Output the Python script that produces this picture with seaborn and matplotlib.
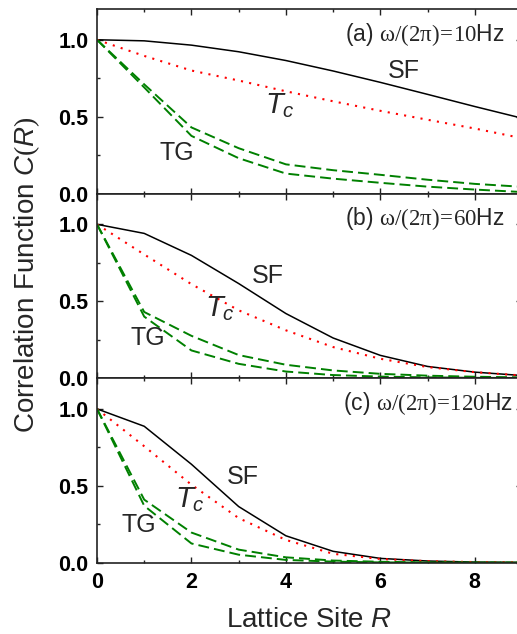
import numpy as np
import pandas as pd
import matplotlib
matplotlib.use("Agg")
import matplotlib.pyplot as plt
import seaborn as sns
from matplotlib.ticker import MultipleLocator

# ---------------- data ----------------
R = [0, 1, 2, 3, 4, 5, 6, 7, 8, 9]

# panel (a) 10 Hz
sf_a = [1.0, 0.993, 0.965, 0.922, 0.865, 0.797, 0.723, 0.645, 0.566, 0.49]
tc_a = [1.0, 0.895, 0.800, 0.735, 0.665, 0.600, 0.538, 0.480, 0.423, 0.36]
tg1_a = [1.0, 0.71, 0.43, 0.295, 0.19, 0.152, 0.122, 0.09, 0.063, 0.044]
tg2_a = [1.0, 0.69, 0.375, 0.23, 0.13, 0.097, 0.07, 0.045, 0.026, 0.01]

# panel (b) 60 Hz
sf_b = [1.0, 0.941, 0.798, 0.615, 0.42, 0.261, 0.148, 0.076, 0.039, 0.017]
tc_b = [1.0, 0.804, 0.611, 0.441, 0.311, 0.202, 0.126, 0.072, 0.039, 0.017]
tg1_b = [1.0, 0.43, 0.275, 0.15, 0.087, 0.05, 0.028, 0.016, 0.009, 0.005]
tg2_b = [1.0, 0.40, 0.18, 0.093, 0.043, 0.02, 0.01, 0.005, 0.002, 0.001]

# panel (c) 120 Hz
sf_c = [1.0, 0.887, 0.64, 0.365, 0.175, 0.074, 0.028, 0.011, 0.004, 0.002]
tc_c = [1.0, 0.757, 0.507, 0.29, 0.148, 0.058, 0.024, 0.01, 0.004, 0.002]
tg1_c = [1.0, 0.41, 0.196, 0.085, 0.035, 0.014, 0.006, 0.002, 0.001, 0.0005]
tg2_c = [1.0, 0.37, 0.125, 0.052, 0.018, 0.007, 0.002, 0.001, 0.0005, 0.0002]

panel_titles = [r"$\mathsf{(a)}\ \mathrm{\omega/(2\pi)\!=\!10}\mathsf{Hz}$",
                r"$\mathsf{(b)}\ \mathrm{\omega/(2\pi)\!=\!60}\mathsf{Hz}$",
                r"$\mathsf{(c)}\ \mathrm{\omega/(2\pi)\!=\!120}\mathsf{Hz}$"]
x_ticks = [0, 2, 4, 6, 8]
y_ticks = [0.0, 0.5, 1.0]

# ---------------- style ----------------
sns.set_style("ticks")
plt.rcParams["font.family"] = ["Liberation Sans", "DejaVu Sans"]
plt.rcParams["mathtext.fontset"] = "custom"
plt.rcParams["mathtext.rm"] = "Liberation Serif"
plt.rcParams["mathtext.sf"] = "Liberation Sans"
plt.rcParams["mathtext.it"] = "Liberation Sans:italic"
plt.rcParams["mathtext.bf"] = "Liberation Sans:bold"

fig = plt.figure(figsize=(5.17, 6.34), dpi=100)
gs = fig.add_gridspec(3, 1, left=97/517, right=522/517,
                      bottom=1 - 562.7/634, top=1 - 9/634, hspace=0)
axes = [fig.add_subplot(gs[i]) for i in range(3)]

panels = [(sf_a, tc_a, tg1_a, tg2_a), (sf_b, tc_b, tg1_b, tg2_b),
          (sf_c, tc_c, tg1_c, tg2_c)]

# label positions (data coords)
sf_pos = [(6.5, 0.80), (3.62, 0.665), (3.08, 0.557)]
tc_pos = [(3.56, 0.52), (2.29, 0.40), (1.65, 0.36)]
tg_pos = [(1.7, 0.263), (1.07, 0.259), (0.88, 0.246)]

green = "#008000"
for i, ax in enumerate(axes):
    sf, tc, tg1, tg2 = panels[i]
    sns.lineplot(x=R, y=sf, ax=ax, color="black", lw=1.1, linestyle="-")
    sns.lineplot(x=R, y=tc, ax=ax, color="#ff0000", lw=1.5,
                 linestyle=(0, (1, 3)))
    sns.lineplot(x=R, y=tg1, ax=ax, color=green, lw=1.4,
                 linestyle=(0, (5.6, 2.6)))
    sns.lineplot(x=R, y=tg2, ax=ax, color=green, lw=1.4,
                 linestyle=(0, (5.6, 2.6)))
    ax.set_xlim(0, 9)
    ax.set_ylim(0, 1.2)
    ax.set_xticks(x_ticks)
    ax.set_yticks(y_ticks)
    ax.xaxis.set_minor_locator(MultipleLocator(1))
    ax.yaxis.set_minor_locator(MultipleLocator(0.25))
    ax.tick_params(which="both", direction="in", top=True, right=True,
                   width=1.0, colors="#222222")
    ax.tick_params(which="major", length=4.3)
    ax.tick_params(which="minor", length=2.5)
    ax.tick_params(axis="y", pad=6, labelsize=15.5)
    ax.tick_params(axis="x", pad=7, labelsize=15.5)
    for lab in ax.get_yticklabels() + ax.get_xticklabels():
        lab.set_fontweight("bold")
        lab.set_color("black")
    ax.yaxis.set_major_formatter(matplotlib.ticker.FormatStrFormatter("%.1f"))
    for sp in ax.spines.values():
        sp.set_linewidth(1.2)
        sp.set_color("#222222")
    if i < 2:
        ax.set_xticklabels([])
    ax.set_xlabel("")
    ax.set_ylabel("")
    ax.text(8.8 if i == 2 else 8.64, 1.035, panel_titles[i], ha="right",
            va="center", fontsize=16.5)
    ax.text(sf_pos[i][0], sf_pos[i][1], "SF", ha="center", va="center",
            fontsize=18)
    ax.text(tc_pos[i][0], tc_pos[i][1], r"$T_c$", ha="left",
            va="baseline", fontsize=21)
    ax.text(tg_pos[i][0], tg_pos[i][1], "TG", ha="center", va="center",
            fontsize=18)

axes[2].set_xlabel(r"Lattice Site $R$", fontsize=20, labelpad=10)
fig.text(27/517, 1 - 275/634, r"Correlation Function $C(R)$", rotation=90,
         ha="center", va="center", fontsize=20)

fig.savefig("out.png", dpi=100)
